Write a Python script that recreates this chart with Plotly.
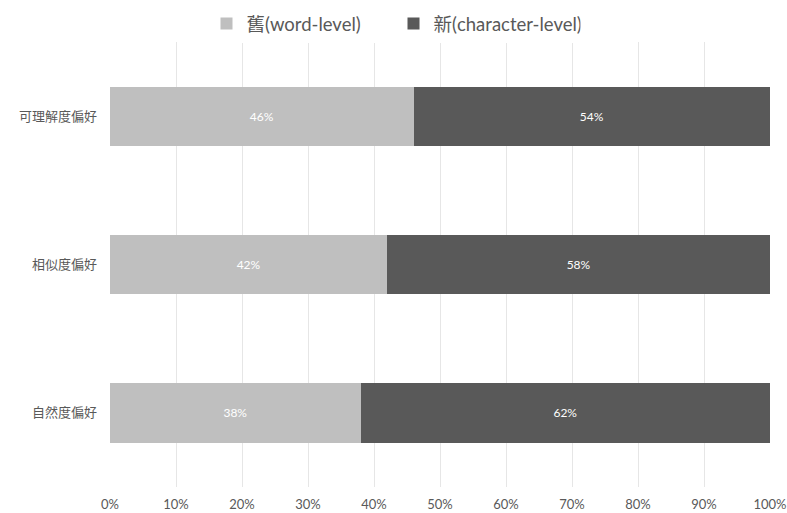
import plotly.graph_objects as go

categories = ["可理解度偏好", "相似度偏好", "自然度偏好"]
old_vals = [46, 42, 38]
new_vals = [54, 58, 62]
series_names = ["舊(word-level)", "新(character-level)"]
colors = ["#BFBFBF", "#595959"]
tick_vals = [0, 10, 20, 30, 40, 50, 60, 70, 80, 90, 100]
tick_text = [f"{v}%" for v in tick_vals]

font_family = "Lato, Noto Sans CJK TC, sans-serif"

fig = go.Figure()
for name, vals, col in zip(series_names, [old_vals, new_vals], colors):
    fig.add_trace(go.Bar(
        y=categories, x=vals, name=name, orientation="h",
        marker=dict(color=col, line=dict(width=0)),
        text=[f"{v}%" for v in vals], textposition="inside",
        insidetextanchor="middle",
        textfont=dict(color="white", size=12, family=font_family),
        width=0.4,
    ))

fig.update_layout(
    barmode="stack",
    width=787, height=513,
    margin=dict(l=110, r=17, t=42, b=26, autoexpand=False),
    plot_bgcolor="white", paper_bgcolor="white",
    font=dict(family=font_family, color="#595959"),
    legend=dict(orientation="h", x=0.5, xanchor="center", xref="container",
                y=1 - 24 / 513, yanchor="middle", yref="container",
                font=dict(size=18.5, color="#595959"), traceorder="normal",
                itemwidth=30, tracegroupgap=0, entrywidth=142),
)
fig.update_xaxes(range=[0, 100], tickvals=tick_vals, ticktext=tick_text,
                 showgrid=True, gridcolor="#E6E6E6", gridwidth=1, zeroline=False,
                 tickfont=dict(size=13, color="#595959"), showline=False,
                 automargin=False, ticklabelstandoff=8)
fig.update_yaxes(autorange="reversed", showgrid=False, ticklabelstandoff=12,
                 tickfont=dict(size=13, color="#595959"), showline=False,
                 automargin=False)

fig.write_html("out.html")
